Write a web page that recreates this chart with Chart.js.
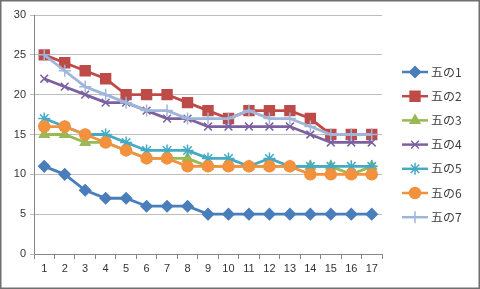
<!DOCTYPE html>
<html>
<head>
<meta charset="utf-8">
<script src="https://cdn.jsdelivr.net/npm/chart.js@4"></script>
<style>
  html, body { margin: 0; padding: 0; background: #fff; }
  #wrap { width: 480px; height: 289px; position: relative; }
</style>
</head>
<body>
<div id="wrap"><canvas id="myChart" width="480" height="289"></canvas></div>
<script>
// categories and values
const labels = ["1","2","3","4","5","6","7","8","9","10","11","12","13","14","15","16","17"];
const seriesNames = ["五の1", "五の2", "五の3", "五の4", "五の5", "五の6", "五の7"];
const go1 = [11, 10, 8, 7, 7, 6, 6, 6, 5, 5, 5, 5, 5, 5, 5, 5, 5];
const go2 = [25, 24, 23, 22, 20, 20, 20, 19, 18, 17, 18, 18, 18, 17, 15, 15, 15];
const go3 = [15, 15, 14, 14, 13, 12, 12, 12, 11, 11, 11, 11, 11, 11, 11, 10, 11];
const go4 = [22, 21, 20, 19, 19, 18, 17, 17, 16, 16, 16, 16, 16, 15, 14, 14, 14];
const go5 = [17, 16, 15, 15, 14, 13, 13, 13, 12, 12, 11, 12, 11, 11, 11, 11, 11];
const go6 = [16, 16, 15, 14, 13, 12, 12, 11, 11, 11, 11, 11, 11, 10, 10, 10, 10];
const go7 = [25, 23, 21, 20, 19, 18, 18, 17, 17, 17, 18, 17, 17, 16, 15, 15, 15];
const yTicks = [0, 5, 10, 15, 20, 25, 30];

const colors = ['#4a7ebb', '#be4b48', '#98b954', '#7d60a0', '#46aac5', '#f3913d', '#9fb5d9'];
const markers = ['rectRot', 'rect', 'triangle', 'crossRot', 'star', 'circle', 'cross'];
const sizes = [5.5, 7, 5.5, 5.5, 6, 5.5, 6];

const allData = [go1, go2, go3, go4, go5, go6, go7];

// white background + grey frame like the excel chart area
const frame = {
    id: 'frame',
    beforeDraw(chart) {
        const c = chart.ctx;
        c.save();
        c.fillStyle = '#fff';
        c.fillRect(0, 0, chart.width, chart.height);
        c.restore();
    },
    afterDraw(chart) {
        const c = chart.ctx;
        c.save();
        c.strokeStyle = '#6f6f6f';
        c.lineWidth = 1.5;
        c.strokeRect(0.75, 0.75, chart.width - 1.5, chart.height - 1.5);
        c.restore();
    }
};

// excel style legend: short line with the marker in the middle
const lineLegend = {
    id: 'lineLegend',
    afterDraw(chart) {
        const c = chart.ctx;
        c.save();
        chart.data.datasets.forEach((ds, i) => {
            const y = 72 + i * 24.2;
            c.strokeStyle = ds.borderColor;
            c.lineWidth = 2.5;
            c.beginPath();
            c.moveTo(402, y);
            c.lineTo(428, y);
            c.stroke();
            c.fillStyle = ds.pointBackgroundColor;
            c.strokeStyle = ds.pointBorderColor;
            c.lineWidth = 1.5;
            Chart.helpers.drawPoint(c, { pointStyle: ds.pointStyle, radius: ds.pointRadius, rotation: 0, borderWidth: 1.5 }, 415, y);
            c.fillStyle = '#404040';
            c.font = '12px "Noto Sans CJK JP"';
            c.textBaseline = 'middle';
            c.fillText(ds.label, 431, y);
        });
        c.restore();
    }
};

const ctx = document.getElementById('myChart');
new Chart(ctx, {
    type: 'line',
    data: {
        labels: labels,
        datasets: allData.map((d, i) => ({
            label: seriesNames[i],
            data: d,
            order: allData.length - i, // later series on top, like excel
            borderColor: colors[i],
            backgroundColor: colors[i],
            pointBackgroundColor: colors[i],
            pointBorderColor: colors[i],
            pointStyle: markers[i],
            pointRadius: sizes[i],
            pointBorderWidth: 1.5,
            borderWidth: 2.8,
            tension: 0,
            fill: false
        }))
    },
    options: {
        responsive: false,
        animation: false,
        layout: { padding: { left: 4, top: 15, right: 98, bottom: 4 } },
        plugins: {
            legend: { display: false },
            tooltip: { enabled: false }
        },
        scales: {
            x: {
                offset: true,
                grid: { display: true, offset: true, drawOnChartArea: false, drawTicks: true, tickLength: 5, color: '#868686' },
                border: { color: '#868686', width: 1 },
                ticks: { color: '#333', font: { family: 'Liberation Sans', size: 11 }, padding: 3, maxRotation: 0, autoSkip: false },
                afterFit: s => { s.height = 31; }
            },
            y: {
                min: 0,
                max: 30,
                afterBuildTicks: s => { s.ticks = yTicks.map(v => ({ value: v })); },
                grid: { color: '#bdbdbd', drawTicks: true, tickLength: 4, lineWidth: 1 },
                border: { color: '#868686', width: 1 },
                ticks: { color: '#333', font: { family: 'Liberation Sans', size: 11 }, padding: 4 },
                afterFit: s => { s.width = 30; }
            }
        }
    },
    plugins: [frame, lineLegend]
});
</script>
</body>
</html>
